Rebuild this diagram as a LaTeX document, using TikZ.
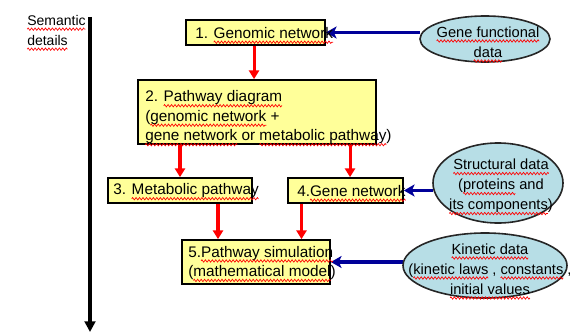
\documentclass[tikz,border=0pt]{standalone}
\usepackage{fontspec}
\setmainfont{Liberation Sans}
\usetikzlibrary{arrows.meta,shapes.geometric,decorations.pathmorphing}
\definecolor{boxfill}{HTML}{FFFF99}
\definecolor{ovalfill}{HTML}{B7DEE6}
\definecolor{feedblue}{HTML}{000099}
% red wavy underline, like a spell checker's mark
\newlength\wavelen
\newcommand\spellwave[1]{\settowidth\wavelen{#1}\rlap{#1}\tikz[baseline=0pt,x=1pt,y=1pt]{%
  \path[use as bounding box] (0pt,0pt) rectangle (\wavelen,0.1pt);
  \draw[red,line width=0.5pt,decorate,decoration={zigzag,amplitude=0.9pt,segment length=2.6pt}]
    (0pt,-2.8pt) -- (\wavelen,-2.8pt);}}

\begin{document}
\begin{tikzpicture}[x=0.75pt,y=-0.75pt,
  stage/.style={draw=black, line width=1.3pt, fill=boxfill, rectangle, inner sep=0pt},
  source/.style={draw=black!85, line width=1.2pt, fill=ovalfill, ellipse, inner sep=0pt},
  boxtext/.style={anchor=west, inner sep=0pt, align=left, font=\fontsize{11.5}{14.6}\selectfont},
  ovaltext/.style={inner sep=0pt, align=center, font=\fontsize{11}{15}\selectfont},
  flow/.style={red, line width=2.3pt, -{Triangle[width=7.5pt,length=6.5pt]}},
  feed/.style={feedblue, line width=2.4pt, -{Stealth[width=9pt,length=8pt,inset=2pt]}},
  axis/.style={black, line width=3pt, -{Triangle[width=8pt,length=8pt]}}]

\useasboundingbox (0,0) rectangle (580,335);

% level axis
\coordinate (axtop) at (90,17);
\coordinate (axbot) at (90,332);
\draw[axis] (axtop) -- (axbot);
\node[anchor=north west, inner sep=0pt, align=left, font=\fontsize{10.5}{15}\selectfont]
  (lab) at (27,15) {\spellwave{Semantic}\\\spellwave{details}};

% stages
\node[stage, minimum width=104.25pt, minimum height=18.75pt] (b1) at (255.5,32.5) {};
\node[stage, minimum width=178.5pt, minimum height=48pt] (b2) at (257,112) {};
\node[stage, minimum width=108pt, minimum height=18.75pt] (b3) at (180,190.5) {};
\node[stage, minimum width=86.25pt, minimum height=18.75pt] (b4) at (345.5,190.5) {};
\node[stage, minimum width=111pt, minimum height=33pt] (b5) at (256,262) {};

% data feeding the stages
\coordinate (f1) at (420,32.5);
\coordinate (f2) at (433,190.5);
\coordinate (f3) at (403,262);
\draw[feed] (f1) -- (b1.east);
\draw[feed] (f2) -- (b4.east);
\draw[feed] (f3) -- (b5.east);

% data sources
\node[source, minimum width=97.5pt, minimum height=34.5pt] (e1) at (485,39) {};
\node[source, minimum width=97.5pt, minimum height=60pt] (e2) at (498,183) {};
\node[source, minimum width=123pt, minimum height=48.75pt] (e3) at (485,265.5) {};

% stage labels
\node[boxtext] (t1) at (195,33) {1. \spellwave{Genomic network}};
\node[boxtext] (t2) at (145,117.5) {2. \spellwave{Pathway diagram}\\(\spellwave{genomic network} +\\\spellwave{gene network} or \spellwave{metabolic pathway})};
\node[boxtext] (t3) at (113,191) {3. \spellwave{Metabolic pathway}};
\node[boxtext] (t4) at (297,191) {4.\spellwave{Gene network}};
\node[boxtext] (t5) at (188,263) {5.\spellwave{Pathway simulation}\\(\spellwave{mathematical model})};

% source labels
\node[ovaltext] (s1) at (488,42) {\spellwave{Gene functional}\\\spellwave{data}};
\node[ovaltext] (s2) at (501,186) {\spellwave{Structural data}\\(\spellwave{proteins} and\\\spellwave{its components})};
\node[ovaltext] (s3) at (490,269) {\spellwave{Kinetic data}\\(\spellwave{kinetic laws} , \spellwave{constants} ,\\\spellwave{initial values}};

% flow between stages
\draw[flow] ([xshift=-1.1pt]b1.south) -- ([xshift=-1.1pt]b1.south |- b2.north);
\draw[flow] (b3.north |- b2.south) -- (b3.north);
\draw[flow] ([xshift=3.4pt]b4.north |- b2.south) -- ([xshift=3.4pt]b4.north);
\draw[flow] ([xshift=28.5pt]b3.south) -- ([xshift=28.5pt]b3.south |- b5.north);
\draw[flow] ([xshift=-33pt]b4.south) -- ([xshift=-33pt]b4.south |- b5.north);

\end{tikzpicture}
\end{document}
